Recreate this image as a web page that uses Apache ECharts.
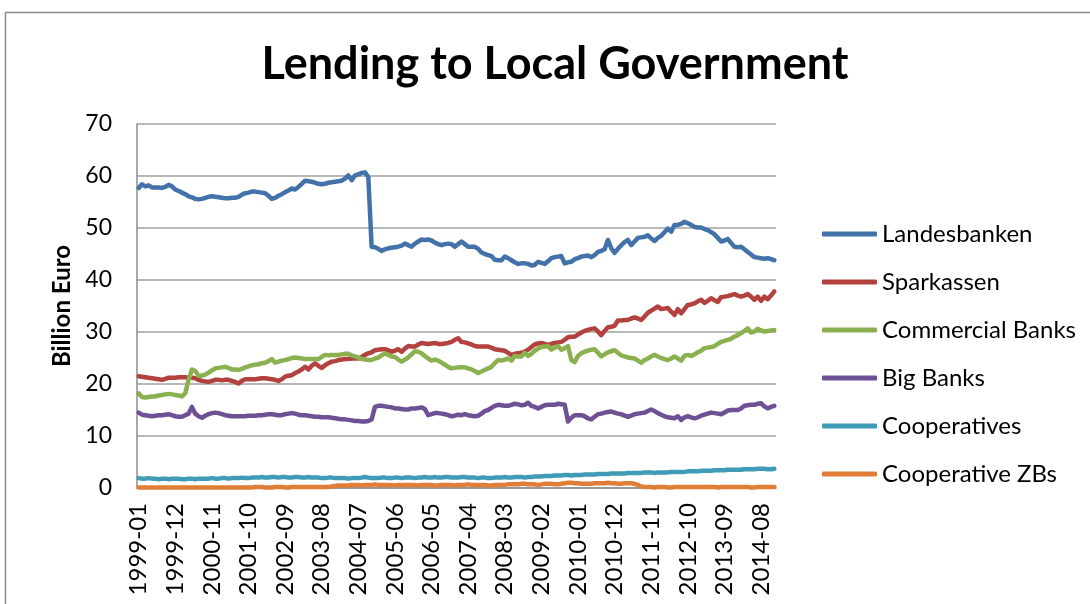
<!DOCTYPE html>
<html>
<head>
<meta charset="utf-8">
<script src="https://cdn.jsdelivr.net/npm/echarts@6/dist/echarts.min.js"></script>
<style>
  html, body { margin: 0; padding: 0; background: #fff; }
  #chart { width: 1090px; height: 604px; }
</style>
</head>
<body>
<div id="chart"></div>
<script>
// Monthly observations, January 1999 to December 2014 (billion euro)
const startYear = 1999;
const monthCount = 192;
const categories = [];
for (let k = 0; k < monthCount; k++) {
  const y = startYear + Math.floor(k / 12);
  const m = (k % 12) + 1;
  categories.push(y + '-' + (m < 10 ? '0' + m : m));
}

const seriesNames = ['Landesbanken', 'Sparkassen', 'Commercial Banks', 'Big Banks', 'Cooperatives', 'Cooperative ZBs'];

const landesbanken = [
  57.7,58.4,58.0,58.2,57.8,57.8,57.8,57.7,57.9,58.3,58.0,57.4,
  57.1,56.8,56.5,56.1,55.9,55.6,55.5,55.6,55.8,56.0,56.1,56.0,
  55.9,55.8,55.7,55.7,55.8,55.8,56.0,56.4,56.7,56.8,57.0,57.0,
  56.9,56.8,56.7,56.2,55.6,55.8,56.2,56.5,56.9,57.2,57.6,57.4,
  57.9,58.5,59.1,59.0,58.9,58.7,58.5,58.4,58.5,58.7,58.8,58.9,
  59.0,59.1,59.5,60.1,59.2,60.1,60.3,60.6,60.7,59.8,46.4,46.3,
  46.0,45.6,45.9,46.1,46.2,46.3,46.4,46.6,47.0,46.7,46.4,47.0,
  47.4,47.8,47.7,47.8,47.6,47.2,46.9,46.7,46.9,47.0,46.9,46.4,
  46.9,47.4,46.9,46.4,46.4,46.4,46.0,45.3,45.0,44.8,44.6,43.9,
  43.8,43.8,44.5,44.2,43.8,43.4,43.1,43.2,43.2,43.1,42.8,42.9,
  43.5,43.3,43.1,43.6,44.2,44.4,44.5,44.6,43.2,43.4,43.5,44.0,
  44.2,44.5,44.6,44.7,44.4,44.8,45.4,45.6,45.9,47.7,46.1,45.2,
  46.0,46.7,47.3,47.7,46.7,47.4,48.1,48.2,48.3,48.6,48.0,47.5,
  48.1,48.5,49.2,49.9,49.3,50.6,50.6,50.8,51.2,50.9,50.6,50.2,
  50.1,50.1,49.8,49.6,49.2,48.8,48.1,47.4,47.6,47.9,47.1,46.4,
  46.3,46.4,45.9,45.4,44.9,44.4,44.3,44.2,44.1,44.2,44.0,43.8
];

const sparkassen = [
  21.5,21.4,21.3,21.2,21.1,21.0,20.9,20.8,21.0,21.2,21.2,21.2,
  21.3,21.3,21.3,21.2,21.2,21.1,20.8,20.6,20.5,20.4,20.6,20.8,
  20.8,20.7,20.8,20.8,20.6,20.4,20.1,20.6,20.9,20.9,20.9,20.9,
  21.0,21.1,21.1,21.0,20.9,20.8,20.6,20.9,21.4,21.6,21.7,22.1,
  22.4,22.8,23.3,22.8,23.5,24.0,23.5,23.1,23.6,24.0,24.3,24.4,
  24.6,24.7,24.8,24.8,24.9,24.9,24.9,25.2,25.6,25.9,26.1,26.5,
  26.6,26.7,26.7,26.5,26.2,26.4,26.7,26.2,26.8,27.3,27.2,27.2,
  27.6,27.9,27.8,27.7,27.8,27.9,27.7,27.7,27.8,27.9,28.1,28.5,
  28.8,28.1,28.0,27.8,27.6,27.3,27.2,27.2,27.2,27.2,27.0,26.7,
  26.6,26.5,26.4,26.0,25.6,25.8,25.9,26.0,26.2,26.6,27.1,27.6,
  27.8,27.9,27.7,27.5,27.7,27.9,28.0,28.1,28.5,29.0,29.1,29.1,
  29.5,29.9,30.2,30.4,30.6,30.7,30.1,29.4,30.2,30.9,31.0,31.2,
  32.2,32.2,32.3,32.3,32.6,32.8,32.6,32.3,33.0,33.7,34.1,34.5,
  34.9,34.4,34.5,34.6,33.9,33.3,34.4,33.6,34.4,35.2,35.3,35.5,
  35.9,36.2,35.6,36.0,36.5,36.1,35.8,36.7,36.8,36.9,37.1,37.3,
  37.0,36.8,37.0,37.3,36.8,36.2,36.8,36.0,36.8,36.3,37.0,37.8
];

const commercialBanks = [
  18.2,17.5,17.4,17.5,17.6,17.6,17.8,17.9,18.0,18.1,18.0,17.9,
  17.8,17.6,18.2,20.8,22.8,22.5,21.6,21.6,21.8,22.2,22.6,23.0,
  23.1,23.2,23.3,23.1,22.8,22.8,22.7,22.9,23.2,23.4,23.6,23.7,
  23.8,24.0,24.1,24.4,24.8,24.1,24.3,24.5,24.6,24.8,25.0,25.1,
  25.0,24.9,24.8,24.8,24.8,24.8,24.8,25.2,25.6,25.5,25.6,25.6,
  25.6,25.7,25.8,25.8,25.5,25.3,25.1,24.8,24.7,24.6,24.6,24.9,
  25.1,25.5,25.9,25.6,25.3,25.2,24.7,24.3,24.7,25.1,25.7,26.3,
  26.2,25.9,25.4,24.9,24.5,24.7,24.5,24.1,23.7,23.3,23.0,23.1,
  23.2,23.2,23.2,23.0,22.8,22.5,22.1,22.4,22.7,23.0,23.3,24.0,
  24.6,24.5,24.7,24.9,24.5,25.4,25.3,25.3,26.0,25.4,25.8,26.4,
  26.8,27.1,27.2,27.3,26.6,27.0,27.3,26.6,26.9,27.3,24.6,24.2,
  25.4,25.9,26.2,26.4,26.6,26.7,26.0,25.3,25.7,26.1,26.3,26.5,
  26.0,25.5,25.3,25.1,25.0,24.9,24.5,24.1,24.6,24.9,25.3,25.6,
  25.3,25.0,24.8,24.6,24.9,25.3,24.9,24.5,25.4,25.6,25.4,25.7,
  26.1,26.4,26.9,27.0,27.1,27.3,27.7,28.1,28.3,28.5,28.7,29.1,
  29.4,29.8,30.2,30.7,29.9,30.1,30.6,30.3,30.1,30.2,30.3,30.4
];

const bigBanks = [
  14.5,14.1,14.0,13.9,13.8,13.9,14.0,14.0,14.1,14.2,14.0,13.8,
  13.7,13.7,14.0,14.3,15.6,14.3,13.8,13.5,13.9,14.2,14.4,14.5,
  14.4,14.2,14.0,13.9,13.8,13.8,13.8,13.8,13.8,13.9,13.9,13.9,
  14.0,14.0,14.1,14.2,14.2,14.1,14.0,14.0,14.2,14.3,14.4,14.3,
  14.1,14.0,14.0,13.9,13.8,13.7,13.7,13.6,13.6,13.6,13.5,13.4,
  13.3,13.2,13.2,13.1,13.0,12.9,12.9,12.8,12.8,12.9,13.2,15.6,
  15.8,15.8,15.7,15.6,15.5,15.3,15.3,15.2,15.1,15.1,15.3,15.3,
  15.4,15.5,15.2,14.0,14.2,14.4,14.4,14.3,14.2,14.0,13.8,13.9,
  14.1,14.0,14.2,14.0,13.9,13.8,13.9,14.3,14.8,15.0,15.4,15.8,
  16.0,15.9,15.8,15.8,16.0,16.2,16.1,15.9,16.0,16.4,15.8,15.6,
  15.3,15.6,15.9,16.0,16.0,16.0,16.2,16.1,16.0,12.8,13.5,14.0,
  14.0,14.0,13.8,13.4,13.2,13.7,14.2,14.3,14.5,14.6,14.7,14.5,
  14.3,14.2,13.9,13.7,13.9,14.2,14.3,14.4,14.5,14.8,15.1,14.8,
  14.4,14.1,13.8,13.6,13.5,13.4,13.8,13.1,13.6,13.8,13.6,13.4,
  13.6,13.9,14.1,14.3,14.5,14.4,14.3,14.2,14.5,14.9,15.0,15.0,
  15.0,15.3,15.8,15.9,16.0,16.0,16.2,16.3,15.7,15.3,15.6,15.8
];

const cooperatives = [
  1.9,1.8,1.8,1.9,1.8,1.8,1.7,1.8,1.8,1.7,1.8,1.8,
  1.8,1.7,1.7,1.8,1.8,1.7,1.8,1.8,1.8,1.8,1.9,1.8,
  1.8,1.9,1.9,1.8,1.9,1.9,1.9,2.0,1.9,1.9,2.0,2.0,
  2.0,2.1,2.0,2.0,2.1,2.1,2.0,2.1,2.1,2.0,2.0,2.1,
  2.1,2.0,2.0,2.1,2.0,2.0,2.0,1.9,1.9,2.0,2.0,1.9,
  1.9,1.9,1.9,1.8,1.9,1.9,1.9,2.0,2.1,2.0,1.9,1.9,
  1.9,2.0,2.0,1.9,1.9,2.0,2.0,1.9,2.0,2.0,2.0,1.9,
  2.0,2.0,2.1,2.0,2.0,2.1,2.0,2.0,2.1,2.1,2.0,2.0,
  2.0,2.1,2.1,2.0,2.0,2.0,1.9,2.0,2.0,1.9,1.9,2.0,
  2.0,2.0,2.1,2.0,2.0,2.1,2.1,2.1,2.0,2.1,2.1,2.2,
  2.2,2.2,2.3,2.3,2.3,2.4,2.4,2.4,2.5,2.5,2.4,2.5,
  2.5,2.5,2.6,2.6,2.6,2.6,2.7,2.7,2.7,2.7,2.8,2.8,
  2.8,2.8,2.8,2.9,2.9,2.9,2.9,2.9,3.0,3.0,3.0,2.9,
  3.0,3.0,3.0,3.0,3.1,3.1,3.1,3.1,3.1,3.2,3.2,3.2,
  3.2,3.3,3.3,3.3,3.3,3.4,3.4,3.4,3.4,3.5,3.5,3.5,
  3.5,3.5,3.6,3.6,3.6,3.6,3.7,3.7,3.7,3.6,3.6,3.7
];

const cooperativeZBs = [
  0.1,0.1,0.1,0.1,0.1,0.1,0.1,0.1,0.1,0.1,0.1,0.1,
  0.1,0.1,0.1,0.1,0.1,0.1,0.1,0.1,0.1,0.1,0.1,0.1,
  0.1,0.1,0.1,0.1,0.1,0.1,0.1,0.1,0.1,0.1,0.1,0.2,
  0.2,0.2,0.1,0.1,0.1,0.2,0.2,0.2,0.1,0.1,0.2,0.2,
  0.2,0.2,0.2,0.2,0.2,0.2,0.2,0.2,0.2,0.2,0.3,0.4,
  0.5,0.5,0.5,0.5,0.6,0.6,0.6,0.5,0.6,0.6,0.6,0.7,
  0.6,0.6,0.6,0.6,0.6,0.5,0.6,0.6,0.6,0.6,0.6,0.6,
  0.5,0.6,0.6,0.6,0.6,0.5,0.5,0.6,0.6,0.6,0.6,0.5,
  0.6,0.6,0.6,0.7,0.6,0.6,0.6,0.6,0.6,0.5,0.5,0.6,
  0.6,0.6,0.6,0.7,0.7,0.7,0.7,0.8,0.8,0.7,0.7,0.7,
  0.6,0.7,0.8,0.8,0.8,0.7,0.7,0.8,0.9,1.0,1.0,0.9,
  0.9,0.8,0.8,0.8,0.8,0.9,0.9,0.9,0.9,1.0,0.9,0.9,
  0.8,0.8,0.9,0.9,0.9,0.8,0.6,0.3,0.2,0.2,0.2,0.1,
  0.2,0.2,0.2,0.1,0.1,0.2,0.2,0.2,0.2,0.2,0.2,0.2,
  0.2,0.2,0.2,0.2,0.2,0.2,0.1,0.2,0.2,0.2,0.2,0.2,
  0.2,0.2,0.2,0.2,0.1,0.1,0.2,0.2,0.2,0.2,0.2,0.2
];

const seriesValues = [landesbanken, sparkassen, commercialBanks, bigBanks, cooperatives, cooperativeZBs];
const seriesColors = ['#4372AA', '#B3423E', '#8BB050', '#6E5195', '#3F9BB6', '#E07E37'];

const FONT = 'Lato, "Open Sans", sans-serif';

const chart = echarts.init(document.getElementById('chart'), null, { renderer: 'canvas' });

chart.setOption({
  animation: false,
  backgroundColor: '#ffffff',
  title: {
    text: 'Lending to Local Government',
    left: 550,
    textAlign: 'center',
    top: 37,
    textStyle: { fontFamily: FONT, fontWeight: 'bold', fontSize: 45, color: '#000000' }
  },
  graphic: [{
    type: 'rect',
    shape: { x: 5.5, y: 12.5, width: 1200, height: 700 },
    style: { fill: 'none', stroke: '#8c8c8c', lineWidth: 1.5 },
    silent: true
  }],
  legend: {
    orient: 'vertical',
    left: 817,
    top: 215,
    itemWidth: 55,
    itemHeight: 5,
    itemGap: 20,
    icon: 'roundRect',
    data: seriesNames,
    textStyle: { fontFamily: FONT, fontSize: 24, lineHeight: 28, color: '#000000' }
  },
  grid: { left: 137, right: 314, top: 124, bottom: 116, containLabel: false },
  xAxis: {
    type: 'category',
    data: categories,
    boundaryGap: true,
    axisLine: { show: true, lineStyle: { color: '#8c8c8c', width: 1.5 } },
    axisTick: { show: false },
    axisLabel: {
      interval: 10,
      rotate: 90,
      margin: 15,
      fontFamily: FONT,
      fontSize: 24,
      color: '#000000'
    },
    splitLine: { show: false }
  },
  yAxis: {
    type: 'value',
    min: 0,
    max: 70,
    interval: 10,
    name: 'Billion Euro',
    nameLocation: 'middle',
    nameGap: 63,
    nameRotate: 90,
    nameTextStyle: { fontFamily: FONT, fontWeight: 'bold', fontSize: 24, color: '#000000' },
    axisLine: { show: true, lineStyle: { color: '#8c8c8c', width: 1.5 } },
    axisTick: { show: false },
    axisLabel: { margin: 25, fontFamily: FONT, fontSize: 23, color: '#000000' },
    splitLine: { show: true, lineStyle: { color: '#a0a0a0', width: 1.5 } }
  },
  series: seriesNames.map((name, idx) => ({
    name: name,
    type: 'line',
    data: seriesValues[idx],
    symbol: 'none',
    smooth: false,
    color: seriesColors[idx],
    lineStyle: { width: 4.5, color: seriesColors[idx], cap: 'round', join: 'round' },
    emphasis: { disabled: true }
  }))
});
</script>
</body>
</html>
